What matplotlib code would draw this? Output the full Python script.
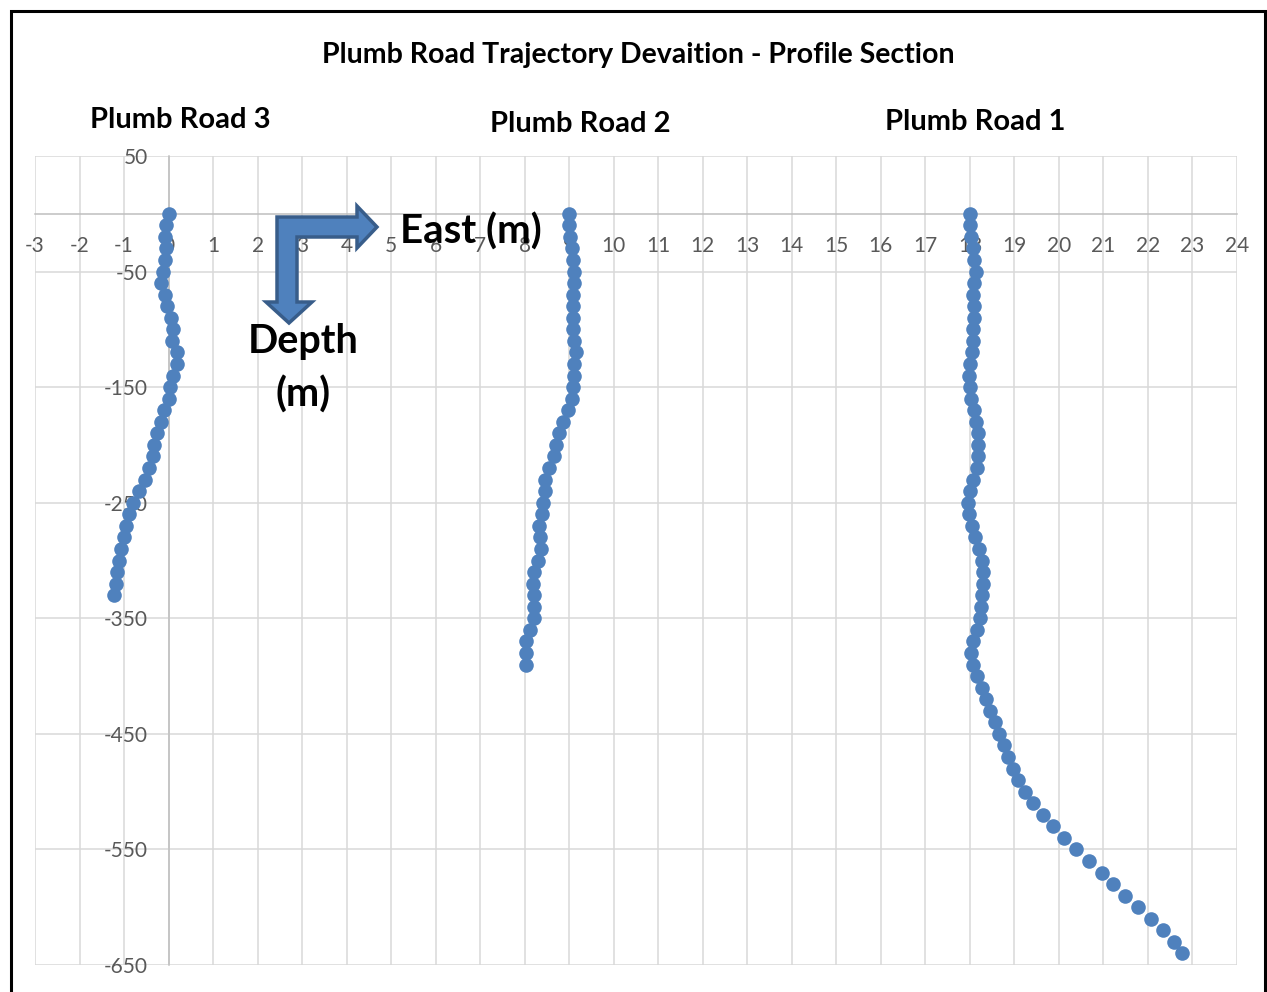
import numpy as np
import matplotlib
matplotlib.use('Agg')
import matplotlib.pyplot as plt
from matplotlib.patches import Polygon, Rectangle

plt.rcParams['font.family'] = ['Lato', 'DejaVu Sans']
plt.rcParams['axes.unicode_minus'] = False

# ── data (east offset in m at 10 m depth stations) ─────────────────────────
DEPTH = [0, -10, -20, -30, -40, -50, -60, -70, -80, -90,
         -100, -110, -120, -130, -140, -150, -160, -170, -180, -190,
         -200, -210, -220, -230, -240, -250, -260, -270, -280, -290,
         -300, -310, -320, -330, -340, -350, -360, -370, -380, -390,
         -400, -410, -420, -430, -440, -450, -460, -470, -480, -490,
         -500, -510, -520, -530, -540, -550, -560, -570, -580, -590,
         -600, -610, -620, -630, -640]

PR3_EAST = [0.00, -0.06, -0.08, -0.06, -0.09, -0.12, -0.17, -0.09, -0.04, 0.06,
            0.09, 0.07, 0.18, 0.18, 0.09, 0.03, 0.00, -0.10, -0.18, -0.27,
            -0.32, -0.36, -0.44, -0.53, -0.67, -0.79, -0.89, -0.95, -1.01, -1.07,
            -1.12, -1.16, -1.18, -1.22]

PR2_EAST = [9.00, 8.99, 9.02, 9.07, 9.08, 9.10, 9.10, 9.08, 9.08, 9.08,
            9.08, 9.10, 9.16, 9.10, 9.10, 9.08, 9.06, 8.98, 8.86, 8.76,
            8.71, 8.65, 8.55, 8.46, 8.45, 8.42, 8.39, 8.33, 8.35, 8.36,
            8.30, 8.20, 8.18, 8.22, 8.21, 8.20, 8.12, 8.03, 8.03, 8.03]

PR1_EAST = [18.00, 18.00, 18.03, 18.06, 18.09, 18.13, 18.10, 18.07, 18.09, 18.10,
            18.07, 18.07, 18.05, 18.01, 17.97, 18.00, 18.03, 18.09, 18.13, 18.18,
            18.19, 18.19, 18.15, 18.07, 18.00, 17.96, 17.98, 18.05, 18.12, 18.21,
            18.27, 18.30, 18.30, 18.28, 18.26, 18.22, 18.16, 18.07, 18.03, 18.06,
            18.16, 18.27, 18.36, 18.46, 18.56, 18.65, 18.76, 18.86, 18.97, 19.08,
            19.23, 19.41, 19.64, 19.87, 20.11, 20.39, 20.67, 20.96, 21.22, 21.48,
            21.77, 22.07, 22.34, 22.58, 22.77]

X_TICKS = list(range(-3, 25))
Y_TICKS = [50, -50, -150, -250, -350, -450, -550, -650]

BLUE = '#4f81bd'
GRID = '#d9d9d9'
TXT = '#595959'

W, H = 1267, 992
fig = plt.figure(figsize=(W / 100, H / 100), dpi=100)
ax = fig.add_axes([35 / W, 1 - 965 / H, (1237 - 35) / W, (965 - 156) / H])


def px(x, y):
    """figure pixel (y down) -> figure fraction"""
    return (x / W, 1 - y / H)


for east in (PR3_EAST, PR2_EAST, PR1_EAST):
    ax.plot(east, DEPTH[:len(east)], 'o', color=BLUE, ms=10.5, mew=0, zorder=4)

ax.set_xlim(-3, 24)
ax.set_ylim(-650, 50)
ax.set_xticks(X_TICKS)
ax.set_yticks(Y_TICKS)
ax.grid(True, color=GRID, lw=1.1, zorder=0)
ax.set_axisbelow(True)

for s in ('top', 'right'):
    ax.spines[s].set_visible(False)
ax.spines['left'].set_position(('data', 0))
ax.spines['bottom'].set_position(('data', 0))
for s in ('left', 'bottom'):
    ax.spines[s].set_color('#bfbfbf')
    ax.spines[s].set_linewidth(1.1)

ax.tick_params(axis='x', length=0, pad=16, labelsize=15, labelcolor=TXT)
ax.tick_params(axis='y', length=0, pad=15, labelsize=15, labelcolor=TXT)

# titles
fig.text(*px(638, 55), 'Plumb Road Trajectory Devaition - Profile Section',
         ha='center', va='center', fontsize=20.5, fontweight='bold')
for lbl, (tx, ty) in (('Plumb Road 3', (180, 120)),
                      ('Plumb Road 2', (580, 124)),
                      ('Plumb Road 1', (975, 122))):
    fig.text(*px(tx, ty), lbl, ha='center', va='center',
             fontsize=21, fontweight='bold')

# elbow arrow
verts = [(277, 217), (357, 217), (357, 206), (377, 227), (357, 248),
         (357, 237), (297, 237), (297, 302), (312, 302), (289, 323),
         (266, 302), (277, 302)]
arrow = Polygon([px(*v) for v in verts], closed=True, transform=fig.transFigure,
                facecolor=BLUE, edgecolor='#385d8a', lw=2.5, zorder=5)
fig.add_artist(arrow)

fig.text(*px(471, 232), 'East (m)', ha='center', va='center',
         fontsize=29, fontweight='bold', zorder=6)
fig.text(*px(303, 342), 'Depth', ha='center', va='center',
         fontsize=28.5, fontweight='bold', zorder=6)
fig.text(*px(303, 395), '(m)', ha='center', va='center',
         fontsize=28.5, fontweight='bold', zorder=6)

# outer frame
frame = Rectangle(px(10.5, 1010), (1265 - 10.5) / W, (1010 - 11.5) / H,
                  transform=fig.transFigure, fill=False, edgecolor='black',
                  lw=2.2, zorder=10)
fig.add_artist(frame)

fig.savefig('out.png', dpi=100)
